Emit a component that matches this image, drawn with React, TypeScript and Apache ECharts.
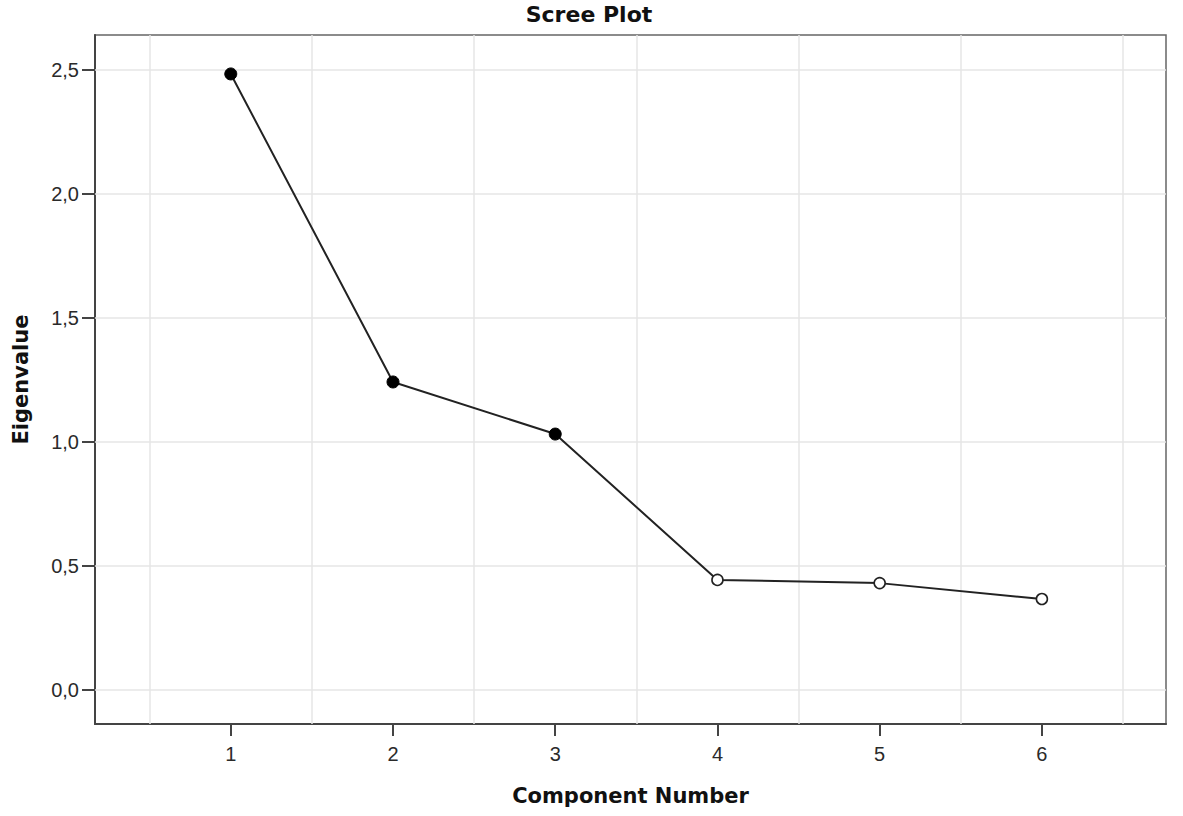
import React, { useEffect, useRef } from "react";
import * as echarts from "echarts";

const components = [1, 2, 3, 4, 5, 6];
const eigenvalues = [2.484, 1.242, 1.032, 0.444, 0.431, 0.367];
const yTicks = [0, 0.5, 1.0, 1.5, 2.0, 2.5];
const xGridLines = [0.5, 1.5, 2.5, 3.5, 4.5, 5.5, 6.5];

export default function App() {
  const ref = useRef<HTMLDivElement>(null);
  useEffect(() => {
    const chart = echarts.init(ref.current!, null, { renderer: "svg" });
    const fmt = (v: number) => v.toFixed(1).replace(".", ",");
    const gridColor = "#e6e6e6";
    const boldFont = "DejaVu Sans";
    const tickFont = "Liberation Sans";
    chart.setOption({
      animation: false,
      backgroundColor: "#ffffff",
      title: {
        text: "Scree Plot",
        left: 584,
        top: -2,
        textAlign: "center",
        textStyle: { fontFamily: boldFont, fontWeight: "bold", fontSize: 22, color: "#111" },
      },
      grid: {
        left: 95,
        top: 35,
        right: 17,
        bottom: 92,
        containLabel: false,
        outerBoundsMode: "none",
        show: true,
        borderColor: "#666",
        borderWidth: 1.5,
        backgroundColor: "#fff",
      },
      xAxis: {
        type: "value",
        min: 0.163,
        max: 6.765,
        name: "Component Number",
        nameLocation: "middle",
        nameGap: 61,
        nameTextStyle: { fontFamily: boldFont, fontWeight: "bold", fontSize: 21, color: "#111" },
        axisLine: { show: true, onZero: false, lineStyle: { color: "#444", width: 2 } },
        axisTick: { show: true, customValues: components, length: 12, lineStyle: { color: "#444", width: 2 } },
        axisLabel: {
          customValues: components,
          formatter: (v: number) => String(v),
          fontFamily: tickFont,
          fontSize: 20,
          color: "#2a2a2a",
          margin: 20,
        },
        splitLine: { show: false },
      },
      yAxis: {
        type: "value",
        min: -0.137,
        max: 2.641,
        name: "Eigenvalue",
        nameLocation: "middle",
        nameGap: 64,
        nameTextStyle: { fontFamily: boldFont, fontWeight: "bold", fontSize: 21, color: "#111" },
        axisLine: { show: true, onZero: false, lineStyle: { color: "#444", width: 2 } },
        axisTick: { show: true, customValues: yTicks, length: 13, lineStyle: { color: "#444", width: 2 } },
        axisLabel: {
          customValues: yTicks,
          formatter: (v: number) => fmt(v),
          fontFamily: tickFont,
          fontSize: 20,
          color: "#2a2a2a",
          margin: 16,
        },
        splitLine: { show: false },
      },
      series: [
        {
          type: "line",
          z: 1,
          data: [],
          markLine: {
            silent: true,
            symbol: "none",
            label: { show: false },
            lineStyle: { color: gridColor, width: 1.5, type: "solid" },
            data: [
              ...xGridLines.map((x) => ({ xAxis: x })),
              ...yTicks.map((y) => ({ yAxis: y })),
            ],
          },
        },
        {
          type: "line",
          z: 5,
          data: components.map((c, i) => ({
            value: [c, eigenvalues[i]],
            symbol: "circle",
            symbolSize: eigenvalues[i] > 1 ? 12 : 11,
            itemStyle:
              eigenvalues[i] > 1
                ? { color: "#000", borderColor: "#000", borderWidth: 1 }
                : { color: "#fff", borderColor: "#222", borderWidth: 1.6 },
          })),
          showSymbol: true,
          lineStyle: { color: "#222", width: 2 },
        },
      ],
    });
    return () => chart.dispose();
  }, []);
  return (
    <div
      ref={ref}
      style={{ position: "absolute", left: 0, top: 0, width: 1183, height: 816 }}
    />
  );
}
